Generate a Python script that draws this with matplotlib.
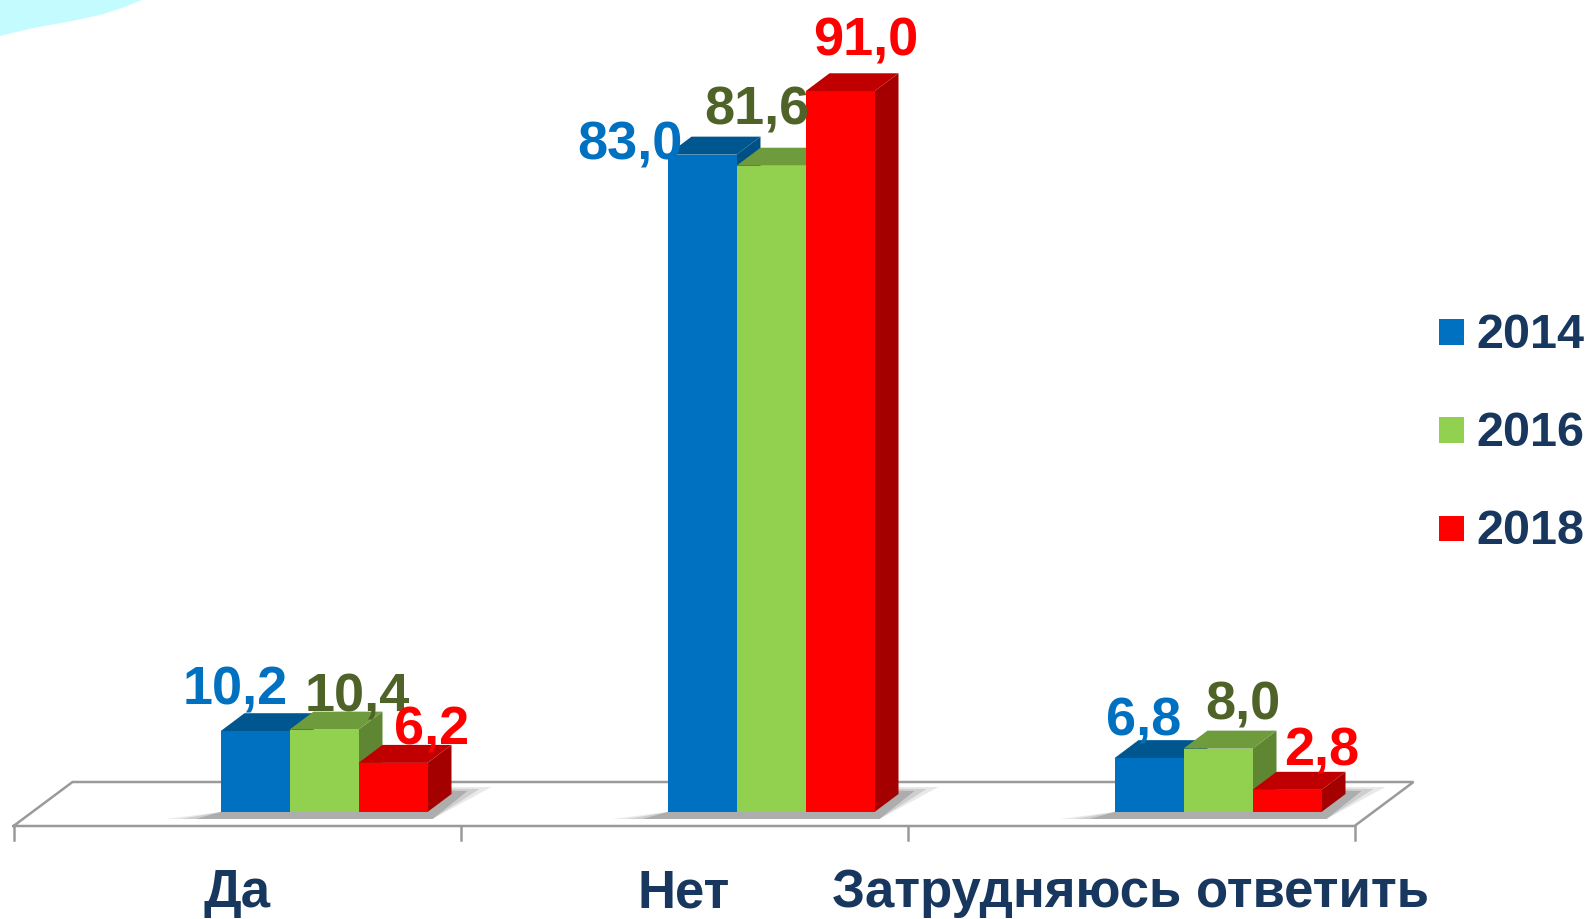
import matplotlib
matplotlib.use("Agg")
import matplotlib.pyplot as plt
from matplotlib.patches import Polygon, Rectangle
import numpy as np

# ---------------- data ----------------
categories = ['Да', 'Нет', 'Затрудняюсь ответить']
years = ['2014', '2016', '2018']
v2014 = [10.2, 83.0, 6.8]
v2016 = [10.4, 81.6, 8.0]
v2018 = [6.2, 91.0, 2.8]
series = [v2014, v2016, v2018]

# ---------------- style ----------------
front_cols = ['#0070C0', '#92D050', '#FF0000']
top_cols = ['#00568F', '#6E9B3C', '#C00000']
side_cols = ['#004F85', '#5F8733', '#A50000']
label_cols = ['#0070C0', '#4F6228', '#FF0000']
navy = '#17375E'
FONT = ['Liberation Sans', 'DejaVu Sans']

W, H = 1587, 919
fig = plt.figure(figsize=(W / 100, H / 100), dpi=100)
ax = fig.add_axes([0, 0, 1, 1])

# scale: one category step = 447 px, one unit of value = 7.92 px
SX, SY = 447.0, 7.92
X0PX, Y0PX = 237.0, 812.0
ax.set_xlim(-X0PX / SX, (W - X0PX) / SX)
ax.set_ylim((Y0PX - H) / SY, Y0PX / SY)
ax.axis('off')

def dx(px):
    return px / SX

def dv(px):
    return px / SY

# background corner decoration
pts = [(0, 0), (0, 36), (33, 28), (67, 22), (100, 15), (122, 8), (142, 0)]
fig.patches.append(Polygon([(x / W, 1 - y / H) for x, y in pts], closed=True,
                           transform=fig.transFigure, facecolor='#C4FBFF',
                           edgecolor='none', zorder=0))

# ---------------- floor ----------------
n = len(categories)
fl, fr = -0.5, n - 0.5
front_v = dv(-14)
back_v = dv(30)
shift = dx(59)
floor_col = '#9A9A9A'
ax.plot([fl, fr, fr + shift, fl + shift, fl],
        [front_v, front_v, back_v, back_v, front_v],
        color=floor_col, lw=1.8, zorder=1, solid_joinstyle='miter')
for t in np.arange(fl, fr + 0.01, 1.0):
    ax.plot([t, t], [front_v, dv(-28)], color=floor_col, lw=1.8, zorder=1)

# ---------------- bars ----------------
bw = dx(69)
ddx, ddy = dx(24), dv(18)
group_off = dx(87)
offsets = [-bw, 0.0, bw]

# shadows (layered for a soft edge)
for i in range(n):
    gc = i + group_off
    x0 = gc - 1.5 * bw
    x1 = gc + 1.5 * bw
    for k, a in enumerate([0.15, 0.22, 0.35]):
        poly = [(x0 - dx(55 - 15 * k), dv(-7)),
                (x1 + dx(5), dv(-7)),
                (x1 + ddx + dx(40 - 12 * k), dv(25 - 2 * k)),
                (x0 + ddx, dv(25)),
                (x0, 0)]
        ax.add_patch(Polygon(poly, closed=True, facecolor='#707070',
                             edgecolor='none', alpha=a, zorder=2))

# 3D bars
for i in range(n):
    gc = i + group_off
    for j, vals in enumerate(series):
        v = vals[i]
        xc = gc + offsets[j]
        xa, xb = xc - bw / 2, xc + bw / 2
        side = [(xb, 0), (xb + ddx, ddy), (xb + ddx, v + ddy), (xb, v)]
        top = [(xa, v), (xb, v), (xb + ddx, v + ddy), (xa + ddx, v + ddy)]
        ax.add_patch(Polygon(side, closed=True, facecolor=side_cols[j],
                             edgecolor='none', zorder=3))
        ax.add_patch(Polygon(top, closed=True, facecolor=top_cols[j],
                             edgecolor='none', zorder=3))
        ax.bar(xc, v, width=bw, bottom=0, color=front_cols[j],
               edgecolor='none', zorder=3)

# value labels (offset in pixels: dx right, dy up, to baseline)
label_offsets = [
    [(-20, 27), (33, 18), (39, 18)],
    [(-72, -5), (-14, 41), (26, 36)],
    [(-5, 23), (25, 29), (35, 24)],
]
for i in range(n):
    gc = i + group_off
    for j, vals in enumerate(series):
        v = vals[i]
        xc = gc + offsets[j]
        ox, oy = label_offsets[i][j]
        ax.annotate(f"{v:.1f}".replace('.', ','), xy=(xc, v),
                    xytext=(ox, oy), textcoords='offset pixels',
                    ha='center', va='baseline', fontsize=39,
                    fontweight='bold', color=label_cols[j],
                    family=FONT, zorder=5)

# category labels
for i, c in enumerate(categories):
    ax.text(i, dv(-95), c, ha='center', va='baseline', fontsize=38,
            fontweight='bold', color=navy, family=FONT, zorder=5)

# ---------------- legend ----------------
rows = [332, 430, 528]
for j, y in enumerate(years):
    yc = rows[j]
    fig.patches.append(Rectangle((1439 / W, 1 - (yc + 12.5) / H), 25 / W, 25 / H,
                                 transform=fig.transFigure,
                                 facecolor=front_cols[j], edgecolor='none'))
    fig.text(1476 / W, 1 - (yc + 16.5) / H, y, ha='left', va='baseline',
             fontsize=35, fontweight='bold', color=navy, family=FONT)

fig.savefig('out.png', dpi=100, facecolor='white')
